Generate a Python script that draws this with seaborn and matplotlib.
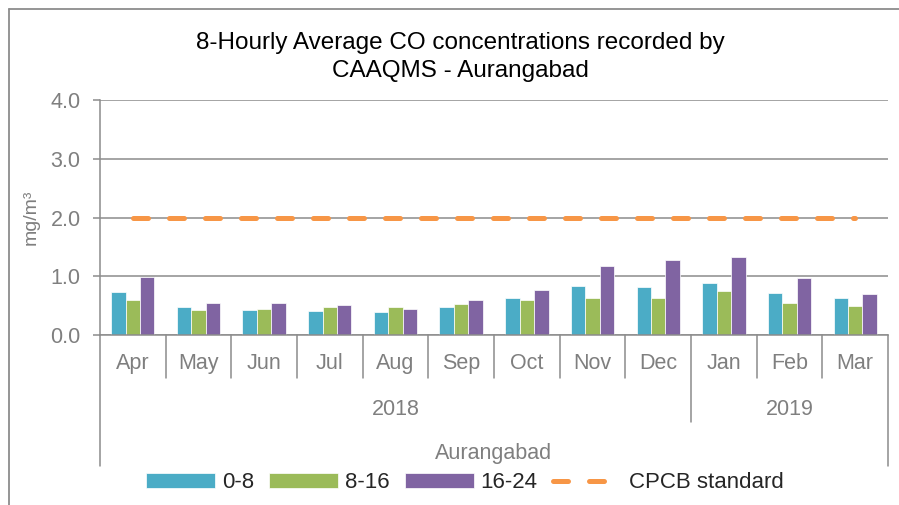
import numpy as np
import pandas as pd
import seaborn as sns
from matplotlib import pyplot as plt
from matplotlib.lines import Line2D
from matplotlib import transforms

# DATA
months = ['Apr', 'May', 'Jun', 'Jul', 'Aug', 'Sep', 'Oct', 'Nov', 'Dec', 'Jan', 'Feb', 'Mar']
years = ['2018'] * 9 + ['2019'] * 3
periods = ['0-8', '8-16', '16-24']
h0_8 = [0.74, 0.48, 0.42, 0.41, 0.39, 0.48, 0.63, 0.84, 0.81, 0.89, 0.72, 0.63]
h8_16 = [0.59, 0.43, 0.45, 0.48, 0.47, 0.53, 0.60, 0.63, 0.63, 0.75, 0.55, 0.50]
h16_24 = [0.99, 0.55, 0.54, 0.51, 0.45, 0.59, 0.77, 1.18, 1.27, 1.33, 0.97, 0.69]
cpcb = [2.0] * 12
yticks = [0, 1, 2, 3, 4]

df = pd.DataFrame({
    'month': months * 3,
    'period': [p for p in periods for _ in months],
    'value': h0_8 + h8_16 + h16_24,
})

sns.set_style('white')
plt.rcParams['font.family'] = ['Liberation Sans Narrow', 'Liberation Sans', 'DejaVu Sans']
GRAY = '#8c8c8c'
TXT = '#7f7f7f'
FS = 15.5

fig = plt.figure(figsize=(8.99, 5.05), dpi=100)
ax = fig.add_axes([0.1112, 0.3366, 0.8766, 0.4654])

sns.barplot(data=df, x='month', y='value', hue='period', hue_order=periods,
            palette=['#4BACC6', '#9BBB59', '#8064A2'], width=0.66, saturation=1,
            edgecolor='white', linewidth=0.5, ax=ax)
sns.lineplot(x=np.arange(len(months)), y=cpcb, ax=ax, color='#F79646', lw=3.6,
             linestyle=(0, (3, 4.2)), dash_capstyle='round', label='CPCB standard')

handles, labels = ax.get_legend_handles_labels()
ax.get_legend().remove()

ax.set_xlim(-0.5, len(months) - 0.5)
ax.set_ylim(0, 4)
ax.set_yticks(yticks, [f'{v:.1f}' for v in yticks])
ax.set_xticks(range(len(months)), months)
ax.set_axisbelow(True)
ax.yaxis.grid(True, color=GRAY, lw=1.1)
for s in ['top', 'right']:
    ax.spines[s].set_visible(False)
for s in ['left', 'bottom']:
    ax.spines[s].set_color(GRAY)
    ax.spines[s].set_linewidth(1.1)
ax.tick_params(axis='y', left=True, length=5, width=1.1, color=GRAY,
               labelsize=FS, labelcolor=TXT, pad=9)
ax.tick_params(axis='x', length=0, labelsize=FS, labelcolor=TXT, pad=13)
ax.set_xlabel('')
ax.set_ylabel('mg/m³', fontsize=14, color=TXT)
ax.yaxis.set_label_coords(-0.077, 0.5)

# multi-level category axis
trans = transforms.blended_transform_factory(ax.transData, ax.transAxes)
n = len(months)
for i in range(n + 1):
    x = i - 0.5
    if i == 0 or i == n:
        bottom = -0.557
    elif years[i] != years[i - 1]:
        bottom = -0.370
    else:
        bottom = -0.183
    ax.plot([x, x], [0, bottom], color=GRAY, lw=1.1, transform=trans, clip_on=False)

for yr in dict.fromkeys(years):
    idx = [i for i, y in enumerate(years) if y == yr]
    ax.text(np.mean(idx), -0.315, yr, transform=trans, ha='center', va='center',
            fontsize=FS, color=TXT)
ax.text(0.5, -0.505, 'Aurangabad', transform=ax.transAxes, ha='center', va='center',
        fontsize=FS, color=TXT)

# title
fig.text(0.512, 1 - 57 / 505, '8-Hourly Average CO concentrations recorded by\nCAAQMS - Aurangabad',
         ha='center', va='center', fontsize=17.5, color='black', linespacing=1.3)

# chart frame
fig.add_artist(Line2D([0.01, 1.0], [0.982, 0.982], color=GRAY, lw=1.3))
fig.add_artist(Line2D([0.01, 0.01], [0.0, 0.982], color=GRAY, lw=1.3))

fig.legend(handles, labels, loc='center', bbox_to_anchor=(0.517, 0.044), ncol=4,
           frameon=False, fontsize=16, handlelength=3.1, handleheight=0.64,
           handletextpad=0.3, columnspacing=0.7)

plt.savefig('out.png', dpi=100)
